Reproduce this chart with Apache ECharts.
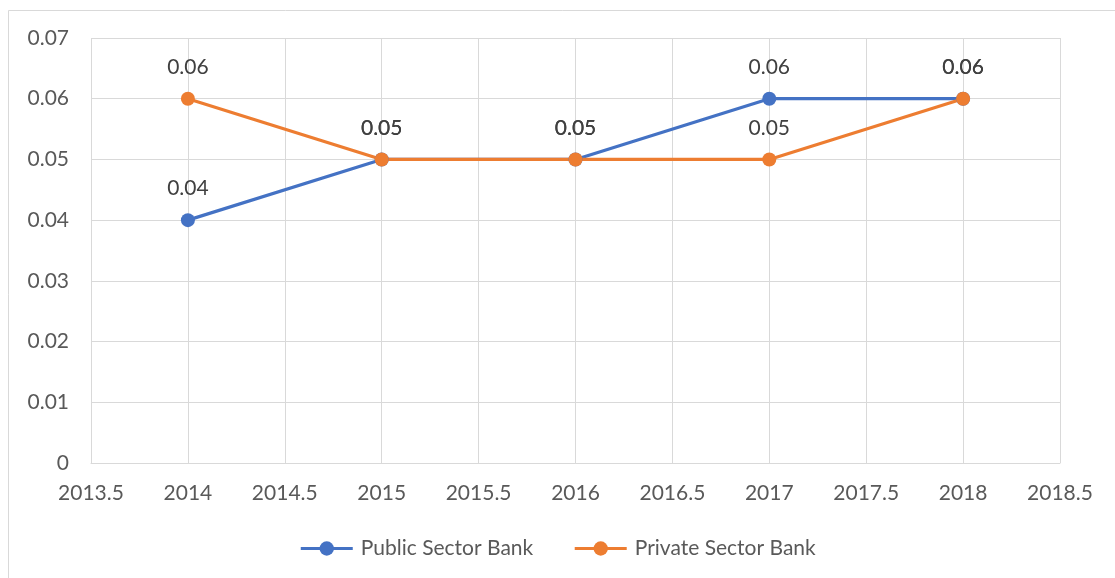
<!DOCTYPE html>
<html>
<head>
<meta charset="utf-8">
<script src="https://cdn.jsdelivr.net/npm/echarts@6/dist/echarts.min.js"></script>
<style>
html,body{margin:0;padding:0;background:#fff;}
#chart{width:1115px;height:578px;}
</style>
</head>
<body>
<div id="chart"></div>
<script>
var years = [2014, 2015, 2016, 2017, 2018];
var publicSector = [0.04, 0.05, 0.05, 0.06, 0.06];
var privateSector = [0.06, 0.05, 0.05, 0.05, 0.06];
var seriesNames = ['Public Sector Bank', 'Private Sector Bank'];

var font = 'Lato, "Open Sans", "Noto Sans", sans-serif';
function pairs(xs, ys){ return xs.map(function(x,i){ return [x, ys[i]]; }); }

var chart = echarts.init(document.getElementById('chart'), null, {renderer:'canvas'});
chart.setOption({
  animation:false,
  backgroundColor:'#fff',
  textStyle:{fontFamily:font},
  graphic:[{
    type:'rect', silent:true, z:-10,
    shape:{x:8.5, y:10.5, width:1300, height:800},
    style:{fill:'none', stroke:'#d9d9d9', lineWidth:1}
  }],
  grid:{left:91, right:55, top:38, bottom:115, containLabel:false},
  xAxis:{
    type:'value', min:2013.5, max:2018.5, interval:0.5,
    axisLine:{show:true, lineStyle:{color:'#d9d9d9', width:1}},
    axisTick:{show:false},
    splitLine:{show:true, lineStyle:{color:'#d9d9d9', width:1}},
    axisLabel:{color:'#595959', fontSize:21, fontFamily:font, margin:20,
      formatter:function(v){ return String(Math.round(v*10)/10); }}
  },
  yAxis:{
    type:'value', min:0, max:0.07, interval:0.01,
    axisLine:{show:false},
    axisTick:{show:false},
    splitLine:{show:true, lineStyle:{color:'#d9d9d9', width:1}},
    axisLabel:{color:'#595959', fontSize:21, fontFamily:font, margin:22,
      formatter:function(v){ return v===0 ? '0' : v.toFixed(2); }}
  },
  legend:{
    bottom:14, left:'center', itemGap:40,
    itemWidth:52, itemHeight:18,
    lineStyle:{width:3},
    textStyle:{color:'#595959', fontSize:21, fontFamily:font, padding:[0,0,0,3]},
    data:seriesNames
  },
  series:[
    {
      name:seriesNames[0], type:'line', data:pairs(years, publicSector),
      color:'#4472c4', symbol:'circle', symbolSize:14,
      lineStyle:{width:3.2, color:'#4472c4'}, itemStyle:{color:'#4472c4'},
      label:{show:true, position:'top', distance:14, color:'#404040', fontSize:21, fontFamily:font,
        formatter:function(p){ return p.value[1].toFixed(2); }}
    },
    {
      name:seriesNames[1], type:'line', data:pairs(years, privateSector),
      color:'#ed7d31', symbol:'circle', symbolSize:14,
      lineStyle:{width:3.2, color:'#ed7d31'}, itemStyle:{color:'#ed7d31'},
      label:{show:true, position:'top', distance:14, color:'#404040', fontSize:21, fontFamily:font,
        formatter:function(p){ return p.value[1].toFixed(2); }}
    }
  ]
});
</script>
</body>
</html>
